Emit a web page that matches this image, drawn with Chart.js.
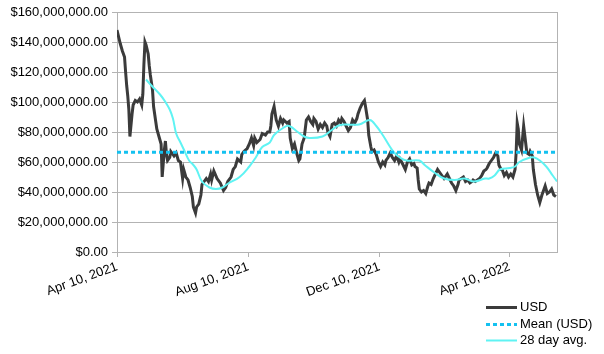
<!DOCTYPE html>
<html>
<head>
<meta charset="utf-8">
<script src="https://cdn.jsdelivr.net/npm/chart.js@4"></script>
<style>
  body { margin: 0; background: #fff; }
  canvas { display: block; }
</style>
</head>
<body>
<canvas id="usdChart" width="604" height="354"></canvas>
<script>
// values, in millions of dollars; x is days since Apr 10, 2021
const usdDays = [0,2,3,5,7,8,9,10,11,12,14,15,17,19,21,23,24,25,26,27,29,30,31,33,34,35,36,37,39,41,42,44,45,46,47,49,50,53,55,57,59,61,62,64,66,68,70,71,72,73,74,76,78,79,81,83,85,87,88,90,93,96,99,101,103,106,108,110,112,115,116,118,121,123,125,127,128,130,133,135,138,140,142,143,144,146,148,150,152,154,155,158,160,161,163,165,167,169,170,172,174,176,178,180,182,183,185,187,189,191,193,195,196,198,200,202,204,206,208,209,211,213,215,217,219,221,223,224,226,228,230,231,233,234,236,237,239,241,243,245,247,249,250,252,254,256,258,260,262,263,266,268,270,272,274,276,277,279,280,281,283,285,287,289,290,292,294,296,298,300,302,304,305,307,309,311,313,315,317,318,320,322,324,326,328,330,331,333,335,337,339,341,343,344,346,348,350,352,354,355,357,358,360,362,364,366,368,370,371,372,373,374,376,378,379,381,383,384,386,387,389,391,393,395,397,398,400,402,404,406,408];
const usdValues = [148,142,139,134,130,120,111,104,95,77,92,98,101,100,102,98,105,125,140,138,132,124,118,108,97,92,87,82,77,72,50,68,74,65,61,63,67,64,66,61,60,49,55,50,48,43,37,30,28,26,30,32,38,45,47,49,47,52,48,54,49,46,41,43,47,50,55,57,62,60,65,67,69,72,76,71,76,73,75,79,78,80,80,84,92,97,88,84,89,86,88,86,87,76,69,72,66,61,62,72,76,88,90,87,85,89,87,82,85,83,86,84,80,77,85,86,84,88,86,89,87,84,81,83,88,86,89,92,96,99,101,97,88,78,70,67,68,65,60,57,60,58,61,63,66,63,61,64,60,62,58,55,60,62,58,59,57,56,48,42,40,41,39,44,46,45,49,52,55,53,51,49,50,52,49,46,44,41,45,48,49,50,47,48,46,47,48,47,48,49,51,54,55,56,59,61,63,66,64,58,55,55,51,53,50,52,50,55,66,86,82,72,68,84,78,66,65,67,64,55,45,38,33,38,42,44,39,40,42,38,37];

const avgDays = [27,32,40,45,49,52,55,59,63,67,71,74,79,86,92,98,104,114,123,129,135,142,146,155,160,168,174,179,191,199,205,211,225,235,241,247,253,258,263,269,281,286,295,304,314,323,332,342,346,351,356,365,370,374,384,388,393,399,405,409];
const avgValues = [115,111,105,100,95,89,79,73,67,61,58,55,47,43,42,43,46,50,57,63,70,73,78,83,84,80,77,76,77,81,84,85,85,88,84,78,71,66,63,61,61,58,53,49,48,49,47,49,49,51,55,56,57,60,63,63,61,57,51,47];

const meanValue = 66.5;
const lastDay = 409;

const tickDays = [0, 122, 244, 365];
const tickLabels = ['Apr 10, 2021', 'Aug 10, 2021', 'Dec 10, 2021', 'Apr 10, 2022'];

const toPoints = (xs, ys) => xs.map((d, i) => ({ x: d, y: ys[i] * 1e6 }));

const FONT = 'Liberation Sans';
const GRID = '#b3b3b3';

// right edge of the plot frame
const frameRight = {
    id: 'frameRight',
    afterDraw(chart) {
        const { ctx, chartArea } = chart;
        ctx.save();
        ctx.strokeStyle = GRID;
        ctx.lineWidth = 1;
        ctx.beginPath();
        ctx.moveTo(Math.round(chartArea.right) + 0.5, chartArea.top);
        ctx.lineTo(Math.round(chartArea.right) + 0.5, chartArea.bottom);
        ctx.stroke();
        ctx.restore();
    }
};

// stacked legend in the bottom right corner
const cornerLegend = {
    id: 'cornerLegend',
    afterDraw(chart) {
        const ctx = chart.ctx;
        const x0 = 486, y0 = 307, rowH = 16.5;
        ctx.save();
        ctx.font = '13px "' + FONT + '"';
        ctx.textBaseline = 'middle';
        ctx.fillStyle = '#000';
        chart.data.datasets.forEach((ds, i) => {
            const y = Math.round(y0 + i * rowH) + 0.5;
            ctx.strokeStyle = ds.borderColor;
            ctx.lineWidth = ds.borderWidth;
            ctx.setLineDash(ds.borderDash || []);
            ctx.beginPath();
            ctx.moveTo(x0, y);
            ctx.lineTo(x0 + 31, y);
            ctx.stroke();
            ctx.fillText(ds.label, x0 + 34, y);
        });
        ctx.restore();
    }
};

new Chart(document.getElementById('usdChart'), {
    type: 'line',
    data: {
        datasets: [
            {
                label: 'USD',
                data: toPoints(usdDays, usdValues),
                borderColor: '#3b3b3b',
                borderWidth: 3,
                pointRadius: 0,
                tension: 0,
                order: 2
            },
            {
                label: 'Mean (USD)',
                data: [{ x: 0, y: meanValue * 1e6 }, { x: lastDay, y: meanValue * 1e6 }],
                borderColor: '#14c1f0',
                borderWidth: 3,
                borderDash: [4, 3],
                pointRadius: 0,
                order: 0
            },
            {
                label: '28 day avg.',
                data: toPoints(avgDays, avgValues),
                borderColor: '#5ff3f3',
                borderWidth: 2,
                pointRadius: 0,
                tension: 0.4,
                order: 1
            }
        ]
    },
    options: {
        responsive: false,
        animation: false,
        layout: { padding: { top: 12, right: 47, bottom: 0, left: 0 } },
        plugins: {
            legend: { display: false },
            tooltip: { enabled: false }
        },
        scales: {
            x: {
                type: 'linear',
                min: 0,
                max: lastDay,
                afterBuildTicks: axis => { axis.ticks = tickDays.map(v => ({ value: v })); },
                afterFit: axis => { axis.height = 102; },
                grid: { drawOnChartArea: false, drawTicks: true, tickLength: 5, color: GRID },
                border: { color: GRID },
                ticks: {
                    autoSkip: false,
                    minRotation: 20,
                    maxRotation: 20,
                    padding: 2,
                    color: '#000',
                    font: { family: FONT, size: 13 },
                    callback: value => tickLabels[tickDays.indexOf(value)]
                }
            },
            y: {
                min: 0,
                max: 160e6,
                afterFit: axis => { axis.width = 117; },
                grid: { color: GRID, tickLength: 5 },
                border: { color: GRID },
                ticks: {
                    stepSize: 20e6,
                    padding: 4,
                    color: '#000',
                    font: { family: FONT, size: 13 },
                    callback: value => '$' + value.toLocaleString('en-US', { minimumFractionDigits: 2, maximumFractionDigits: 2 })
                }
            }
        }
    },
    plugins: [frameRight, cornerLegend]
});
</script>
</body>
</html>
